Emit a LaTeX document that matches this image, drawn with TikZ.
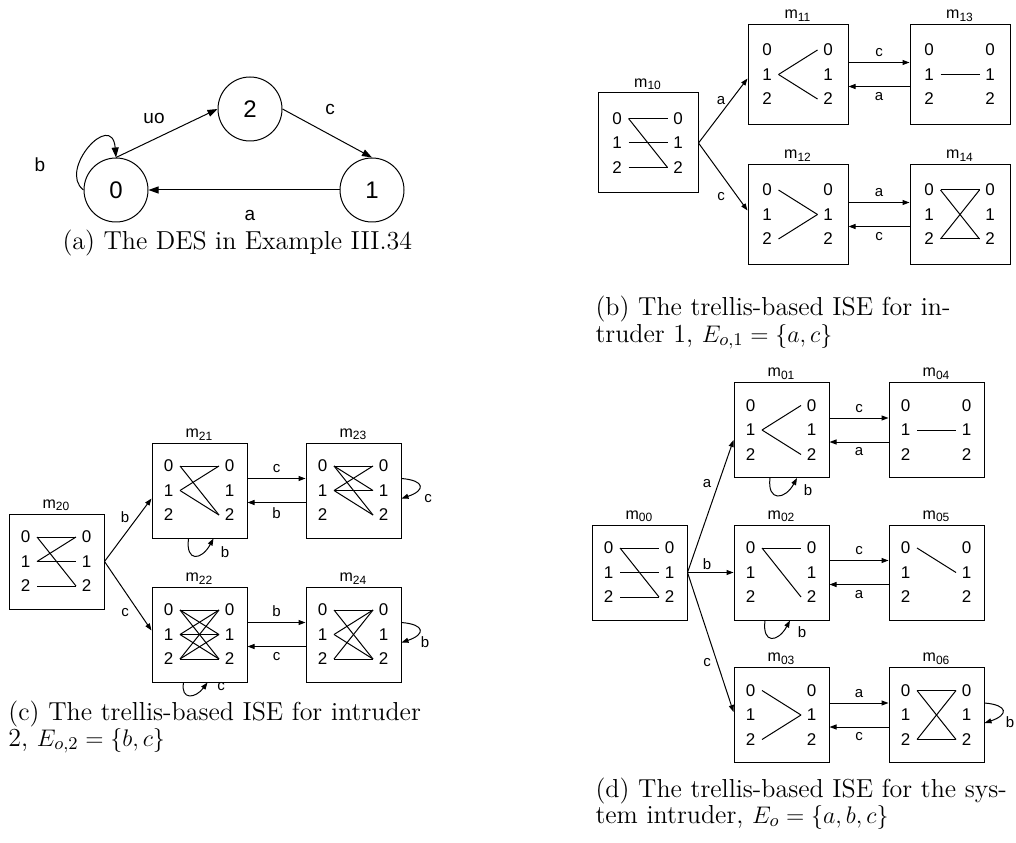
\documentclass[tikz,border=0pt]{standalone}
\usepackage{fontspec}
\setsansfont{Liberation Sans}
\usetikzlibrary{arrows.meta}

\newcommand{\trellis}[5]{%
  \begin{scope}[shift={(#2,#3)}]
    \node[tbox, minimum size=#4] (m#1) at (0,0) {};
    \node[tname] (n#1) at (m#1.north) {m\textsubscript{#1}};
    \foreach \r/\h in {0/24.5,1/0,2/-24.5} {
      \node[digit] (m#1-a\r) at (-31,\h) {\r};
      \node[digit] (m#1-b\r) at (30,\h) {\r};
      \coordinate (m#1-l\r) at (-19.5,\h);
      \coordinate (m#1-r\r) at (19.5,\h);
    }
    \foreach \i/\j in {#5} \draw (m#1-l\i) -- (m#1-r\j);
  \end{scope}}

\begin{document}
\begin{tikzpicture}[x=0.5pt, y=0.5pt, line width=0.5pt,
  stnode/.style={circle, draw, minimum size=32pt, inner sep=0pt, font=\sffamily\fontsize{12}{14}\selectfont},
  slab/.style={inner sep=0pt, font=\sffamily\fontsize{9.5}{11}\selectfont},
  tbox/.style={draw, inner sep=0pt},
  digit/.style={inner sep=0pt, font=\sffamily\fontsize{8.5}{10}\selectfont},
  tname/.style={anchor=south, inner sep=1pt, font=\sffamily\fontsize{8}{9}\selectfont},
  elab/.style={inner sep=1pt, font=\sffamily\fontsize{7.5}{9}\selectfont},
  bigarr/.style={-{Triangle[length=5pt,width=3.5pt]}},
  arr/.style={-{Triangle[length=3.5pt,width=2.5pt]}},
  capa/.style={anchor=base west, inner sep=0pt, font=\rmfamily\fontsize{13}{13}\selectfont},
  subcap/.style={anchor=base west, inner sep=0pt, text width=204pt, align=left, font=\rmfamily\fontsize{13}{13}\selectfont}]
\useasboundingbox (0,0) rectangle (1016,842);

% (a)
\node[stnode] (s0) at (116,652) {0};
\node[stnode] (s2) at (250,733) {2};
\node[stnode] (s1) at (372,652) {1};
\draw[bigarr] (s0.north) -- (s2.west);
\draw[bigarr] (s2.east) -- (s1.north);
\draw[bigarr] (s1.west) -- (s0.east);
\draw[bigarr] (s0.west) .. controls +(-26,20) and +(-4,48) .. (s0.north);
\node[slab] (luo) at (154,724) {uo};
\node[slab] (lc) at (330,733) {c};
\node[slab] (lb) at (40,677) {b};
\node[slab] (la) at (250,627) {a};
\node[capa] (capa) at (62,592) {(a) The DES in Example III.34};

% (b)
\trellis{10}{648}{699}{50pt}{0/0,0/2,1/1,2/2}
\trellis{11}{798}{767.5}{50pt}{1/0,1/2}
\trellis{13}{960}{767.5}{50pt}{1/1}
\trellis{12}{798}{627.5}{50pt}{0/1,2/1}
\trellis{14}{960}{627.5}{50pt}{0/0,0/2,2/0,2/2}
\draw[arr] (m10.east) -- ([yshift=-2pt]m11.west);
\draw[arr] (m10.east) -- ([yshift=2pt]m12.west);
\node[elab] (lb1) at (721,741) {a};
\node[elab] (lb2) at (721,645) {c};
\draw[arr] ([yshift=6pt]m11.east) -- node[elab, above=1.5pt] (lb3) {c} ([yshift=6pt]m13.west);
\draw[arr] ([yshift=-6pt]m13.west) -- node[elab, below=1.5pt] (lb4) {a} ([yshift=-6pt]m11.east);
\draw[arr] ([yshift=6pt]m12.east) -- node[elab, above=1.5pt] (lb5) {a} ([yshift=6pt]m14.west);
\draw[arr] ([yshift=-6pt]m14.west) -- node[elab, below=1.5pt] (lb6) {c} ([yshift=-6pt]m12.east);
\node[subcap] (capb) at (595,526) {\makebox[204pt][s]{(b) The trellis-based ISE for in-}\\truder 1, $E_{o,1}=\{a,c\}$};

% (c)
\trellis{20}{56.5}{280.5}{47.5pt}{0/0,0/2,1/0,1/1,2/2}
\trellis{21}{199.5}{351.5}{47.5pt}{0/0,0/2,1/0,1/2}
\trellis{23}{353.5}{351.5}{47.5pt}{0/0,0/1,0/2,1/0,1/1,1/2}
\trellis{22}{199.5}{207.5}{47.5pt}{0/0,0/1,0/2,1/0,1/1,1/2,2/0,2/1,2/2}
\trellis{24}{353.5}{207.5}{47.5pt}{0/0,0/2,1/0,1/2,2/0,2/2}
\draw[arr] (m20.east) -- ([yshift=-4pt]m21.west);
\draw[arr] (m20.east) -- ([yshift=2pt]m22.west);
\node[elab] (lc1) at (125,325) {b};
\node[elab] (lc2) at (125,229) {c};
\draw[arr] ([yshift=6pt]m21.east) -- node[elab, above=1.5pt] (lc3) {c} ([yshift=6pt]m23.west);
\draw[arr] ([yshift=-6pt]m23.west) -- node[elab, below=1.5pt] (lc4) {b} ([yshift=-6pt]m21.east);
\draw[arr] ([yshift=6pt]m22.east) -- node[elab, above=1.5pt] (lc5) {b} ([yshift=6pt]m24.west);
\draw[arr] ([yshift=-6pt]m24.west) -- node[elab, below=1.5pt] (lc6) {c} ([yshift=-6pt]m22.east);
\draw[arr] ([xshift=-5.5pt]m21.south) .. controls +(-3,-24) and +(-12,-22) .. ([xshift=7pt]m21.south);
\draw[arr] ([xshift=-8pt]m22.south) .. controls +(-3,-18) and +(-12,-16) .. ([xshift=4pt]m22.south);
\draw[arr] ([yshift=6pt]m23.east) .. controls +(24,-2) and +(24,8) .. ([yshift=-4pt]m23.east);
\draw[arr] ([yshift=6pt]m24.east) .. controls +(24,-2) and +(24,8) .. ([yshift=-4pt]m24.east);
\node[elab] (lc7) at (225,290) {b};
\node[elab] (lc8) at (221,155) {c};
\node[elab] (lc9) at (428,343) {c};
\node[elab] (lc10) at (425,200) {b};
\node[subcap] (capc) at (8,122) {\makebox[204pt][l]{(c) The trellis-based ISE for intruder}\\2, $E_{o,2}=\{b,c\}$};

% (d)
\trellis{00}{639.5}{269.5}{47.5pt}{0/0,0/2,1/1,2/2}
\trellis{01}{781.5}{412}{47.5pt}{1/0,1/2}
\trellis{04}{936.5}{412}{47.5pt}{1/1}
\trellis{02}{781.5}{269.5}{47.5pt}{0/0,0/2}
\trellis{05}{936.5}{269.5}{47.5pt}{0/1}
\trellis{03}{781.5}{127}{47.5pt}{0/1,2/1}
\trellis{06}{936.5}{127}{47.5pt}{0/0,0/2,2/0,2/2}
\draw[arr] (m00.east) -- ([yshift=-5pt]m01.west);
\draw[arr] (m00.east) -- (m02.west);
\draw[arr] (m00.east) -- ([yshift=1.5pt]m03.west);
\node[elab] (ld1) at (707,358) {a};
\node[elab] (ld2) at (707,278) {b};
\node[elab] (ld3) at (707,179) {c};
\draw[arr] ([yshift=6pt]m01.east) -- node[elab, above=1.5pt] (ld4) {c} ([yshift=6pt]m04.west);
\draw[arr] ([yshift=-6pt]m04.west) -- node[elab, below=1.5pt] (ld5) {a} ([yshift=-6pt]m01.east);
\draw[arr] ([yshift=6pt]m02.east) -- node[elab, above=1.5pt] (ld6) {c} ([yshift=6pt]m05.west);
\draw[arr] ([yshift=-6pt]m05.west) -- node[elab, below=1.5pt] (ld7) {a} ([yshift=-6pt]m02.east);
\draw[arr] ([yshift=6pt]m03.east) -- node[elab, above=1.5pt] (ld8) {a} ([yshift=6pt]m06.west);
\draw[arr] ([yshift=-6pt]m06.west) -- node[elab, below=1.5pt] (ld9) {c} ([yshift=-6pt]m03.east);
\draw[arr] ([xshift=-5.75pt]m01.south) .. controls +(-3,-24) and +(-12,-22) .. ([xshift=7.75pt]m01.south);
\draw[arr] ([xshift=-8.25pt]m02.south) .. controls +(-3,-24) and +(-12,-22) .. ([xshift=4.25pt]m02.south);
\draw[arr] ([yshift=6pt]m06.east) .. controls +(24,-2) and +(24,8) .. ([yshift=-4pt]m06.east);
\node[elab] (ld10) at (808,352) {b};
\node[elab] (ld11) at (802,210) {b};
\node[elab] (ld12) at (1010,120) {b};
\node[subcap] (capd) at (595,45) {\makebox[204pt][s]{(d) The trellis-based ISE for the sys-}\\tem intruder, $E_o=\{a,b,c\}$};
\end{tikzpicture}
\end{document}
